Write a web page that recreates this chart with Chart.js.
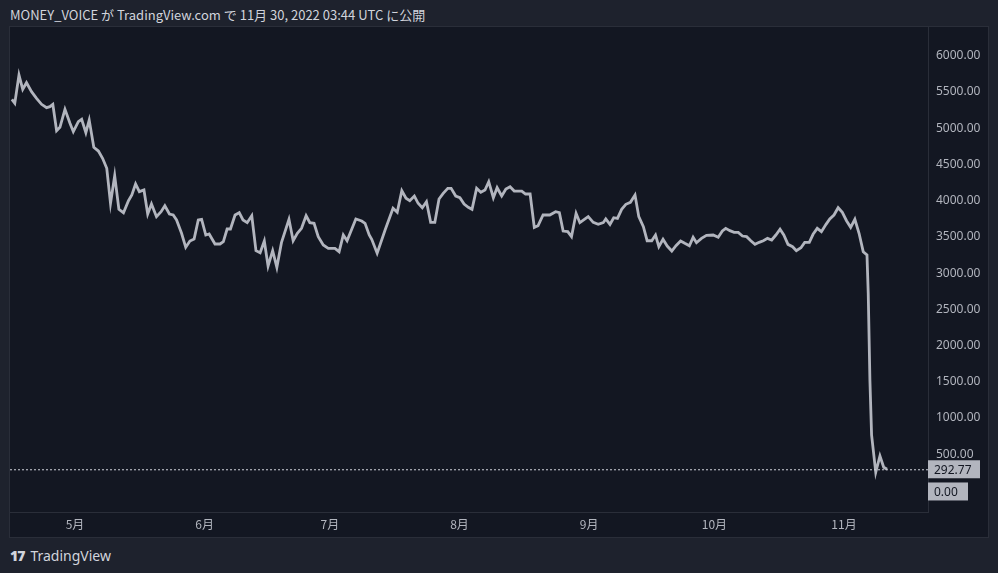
<!DOCTYPE html>
<html>
<head>
<meta charset="utf-8">
<script src="https://cdn.jsdelivr.net/npm/chart.js@4"></script>
<style>
  body { margin: 0; background: #1e222d; width: 998px; height: 573px; overflow: hidden; font-family: "Noto Sans CJK JP", "Noto Sans", sans-serif; }
  #title { position: absolute; left: 10px; top: 5px; color: #d1d4dc; font-size: 13px; }
  #panel { position: absolute; left: 10px; top: 27px; width: 978px; height: 510px; background: #131722; outline: 1px solid #2a2e39; }
  #footer { position: absolute; left: 10px; top: 546px; color: #d1d4dc; font-size: 14px; font-family: "Noto Sans", sans-serif; }
  #footer b { font-weight: 900; font-size: 14px; letter-spacing: -1px; margin-right: 6px; }
</style>
</head>
<body>
<div id="title">MONEY_VOICE が TradingView.com で 11月 30, 2022 03:44 UTC に公開</div>
<div id="panel"><canvas id="chart" width="978" height="510"></canvas></div>
<div id="footer"><b>17</b>TradingView</div>
<script>
// days since Apr 1, 2022
const days = [14.9,15.6,16.6,17.5,18.4,19.6,20.8,22.0,23.2,24.0,24.7,25.6,26.4,27.6,28.8,29.6,30.8,31.6,32.6,33.4,
  34.5,35.6,36.6,37.6,38.5,39.5,40.5,41.6,42.8,43.6,44.5,45.4,46.5,47.4,48.3,49.5,50.6,51.5,52.6,53.5,
  54.3,55.5,56.5,57.5,58.5,59.5,60.3,61.3,62.1,63.5,64.7,65.5,66.4,67.2,68.3,69.3,70.2,71.2,72.3,73.3,
  74.3,75.3,76.2,77.3,78.3,79.4,81.2,82.2,83.2,84.2,85.3,86.2,87.2,88.2,89.4,90.6,92.2,93.2,94.2,95.1,
  97.2,98.6,99.4,100.4,101.0,102.3,104.2,106.1,107.1,108.2,109.2,110.1,111.2,112.1,113.1,114.1,115.1,116.1,117.1,118.1,
  119.2,120.0,121.1,122.1,123.1,124.1,125.0,126.1,127.1,128.1,129.0,130.1,131.0,132.1,133.1,134.1,135.1,136.9,137.8,138.9,
  139.9,140.8,142.0,143.6,145.0,145.9,146.8,147.9,148.8,149.9,150.8,152.8,154.0,155.2,156.4,157.0,158.0,158.9,159.8,160.8,
  161.8,162.9,164.0,164.9,166.0,166.9,168.0,168.9,169.7,170.7,171.7,172.8,173.8,174.9,175.9,177.0,177.9,178.7,179.9,181.1,
  182.7,183.9,184.9,185.7,186.7,187.7,188.7,189.7,190.7,191.7,192.7,193.7,194.7,195.7,196.7,197.7,198.7,199.6,200.6,201.7,
  202.6,203.7,204.6,205.7,206.6,207.6,208.6,209.7,210.6,211.6,212.6,213.6,214.6,215.6,216.6,217.6,218.6,219.5,219.8,220.2,
  220.6,221.6,222.6,223.5,224.3];
const prices = [5399,5344,5734,5537,5628,5504,5413,5330,5283,5297,5330,4966,5012,5261,5068,4952,5090,5123,4938,5113,
  4736,4685,4585,4447,3964,4345,3881,3834,3999,4078,4230,4124,4147,3816,3954,3779,3848,3930,3816,3802,
  3733,3550,3356,3443,3471,3733,3743,3526,3540,3402,3402,3434,3609,3609,3802,3834,3733,3696,3792,3310,
  3282,3443,3098,3310,3080,3420,3743,3447,3550,3618,3792,3696,3687,3503,3388,3342,3342,3296,3526,3447,
  3747,3719,3687,3526,3467,3274,3595,3894,3839,4137,4033,3999,4064,3964,3903,3986,3701,3701,4023,4101,
  4170,4170,4064,4041,3954,3908,3881,4170,4115,4147,4262,4041,4179,4064,4161,4193,4133,4133,4092,4092,
  3632,3655,3802,3802,3848,3834,3581,3572,3503,3825,3696,3779,3701,3673,3696,3747,3673,3765,3756,3881,
  3950,3977,4078,3779,3641,3447,3447,3526,3365,3467,3374,3305,3378,3443,3411,3378,3494,3420,3480,3522,
  3526,3494,3581,3618,3586,3563,3563,3512,3503,3447,3397,3425,3447,3480,3457,3526,3605,3526,3397,3365,
  3310,3351,3425,3425,3536,3618,3572,3673,3747,3802,3903,3839,3723,3632,3743,3550,3296,3250,2721,1525,
  766,251,476,320,292.77];
const monthDays = [30, 61, 91, 122, 153, 183, 214];
const monthLabels = ['5月', '6月', '7月', '8月', '9月', '10月', '11月'];
const lastPrice = 292.77;

const textColor = '#b2b5be';

const priceLinePlugin = {
  id: 'priceLine',
  afterDraw(chart) {
    const ctx = chart.ctx;
    const area = chart.chartArea;
    const y = chart.scales.y;
    const py = y.getPixelForValue(lastPrice);
    ctx.save();
    ctx.strokeStyle = '#d1d4dc';
    ctx.lineWidth = 1;
    ctx.setLineDash([2, 2]);
    ctx.beginPath();
    ctx.moveTo(area.left, py + 0.5);
    ctx.lineTo(area.right, py + 0.5);
    ctx.stroke();
    ctx.setLineDash([]);
    ctx.font = '12px "Noto Sans", sans-serif';
    ctx.textBaseline = 'middle';
    // current price label
    ctx.fillStyle = '#b2b5be';
    ctx.fillRect(area.right, py - 9, 52, 18);
    ctx.fillStyle = '#131722';
    ctx.fillText(lastPrice.toFixed(2), area.right + 6, py + 1);
    // zero label
    const pz = y.getPixelForValue(0) + 1;
    ctx.fillStyle = '#b2b5be';
    ctx.fillRect(area.right, pz - 9, 40, 18);
    ctx.fillStyle = '#131722';
    ctx.fillText('0.00', area.right + 6, pz + 1);
    ctx.restore();
  }
};

new Chart(document.getElementById('chart'), {
  type: 'line',
  data: {
    datasets: [{
      data: days.map((d, i) => ({ x: d, y: prices[i] })),
      borderColor: '#b2b5be',
      borderWidth: 2.8,
      pointRadius: 0,
      tension: 0,
      fill: false
    }]
  },
  options: {
    responsive: false,
    animation: false,
    layout: { padding: 0 },
    plugins: { legend: { display: false }, tooltip: { enabled: false } },
    scales: {
      x: {
        type: 'linear',
        min: 14.45,
        max: 234.1,
        afterBuildTicks: (axis) => { axis.ticks = monthDays.map(v => ({ value: v })); },
        afterFit: (axis) => { axis.height = 25; axis.paddingLeft = 0; axis.paddingRight = 0; },
        grid: { display: false, drawTicks: false },
        border: { color: '#2a2e39' },
        ticks: {
          color: textColor,
          font: { size: 12, family: '"Noto Sans CJK JP", sans-serif' },
          padding: 5,
          maxRotation: 0,
          autoSkip: false,
          callback: (v) => monthLabels[monthDays.indexOf(v)] ?? ''
        }
      },
      y: {
        position: 'right',
        min: -297,
        max: 6397,
        afterBuildTicks: (axis) => {
          const t = [];
          for (let v = 500; v <= 6000; v += 500) t.push({ value: v });
          axis.ticks = t;
        },
        afterFit: (axis) => { axis.width = 60; axis.paddingTop = 0; axis.paddingBottom = 0; },
        grid: { display: false, drawTicks: false },
        border: { color: '#2a2e39' },
        ticks: {
          color: textColor,
          font: { size: 12, family: '"Noto Sans", sans-serif' },
          padding: 8,
          callback: (v) => v.toFixed(2)
        }
      }
    }
  },
  plugins: [priceLinePlugin]
});
</script>
</body>
</html>
